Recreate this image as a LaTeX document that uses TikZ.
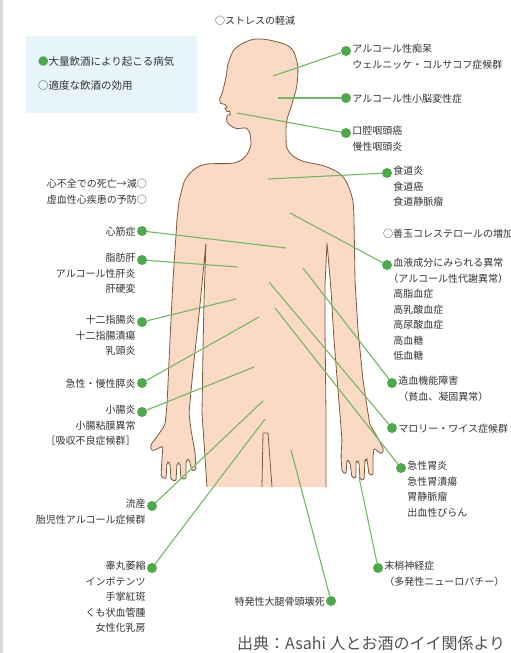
\documentclass[tikz,border=0pt]{standalone}
\usepackage{fontspec}
\setmainfont{Noto Sans CJK JP}
\definecolor{skin}{HTML}{FAD9C5}
\definecolor{skinline}{HTML}{7B5B3B}
\definecolor{leaf}{HTML}{72B864}
\definecolor{dotgreen}{HTML}{4DAA4A}
\definecolor{legendbg}{HTML}{E8F4FB}
\definecolor{ink}{HTML}{343434}

% outline of the figure, from the right hip round to the left hip
\def\bodyline{(326,487) -- (326,413) -- (325,330) -- (325,285) -- (327,243)
  -- (331,290) -- (334,340) -- (338,390) -- (340,415)
  -- (342,440) -- (341,456) -- (342,472) -- (346,474) -- (347,460) -- (350,462)
  -- (352,478) -- (356,478) -- (356,461) -- (359,462) -- (360,480) -- (364,480)
  -- (365,460) -- (367,459) -- (369,475) -- (373,475) -- (373,456) -- (374,448)
  -- (381,454) -- (384,450) -- (378,438) -- (370,425) -- (368,413)
  -- (363,380) -- (358,330) -- (355,280)
  -- plot[smooth,tension=.55] coordinates {(354,220) (352,197) (343,177) (327,167)
     (300,160) (288,150) (286,135) (287,120) (292,104) (297,84) (297,62) (288,46)
     (258,39) (237,47) (229,61) (226,77) (223,90) (220,101) (226,106) (226,110)
     (230,113) (227,117) (228,123) (235,128) (248,130) (250,148) (237,162)
     (203,165) (187,177) (180,197) (177,220)}
  -- (173,280) -- (170,340) -- (167,405)
  -- (165,425) -- (156,438) -- (150,446) -- (152,451) -- (159,448) -- (163,446)
  -- (162,458) -- (161,477) -- (166,479) -- (167,462) -- (170,463) -- (171,480)
  -- (176,481) -- (177,463) -- (180,463) -- (181,479) -- (186,479) -- (186,461)
  -- (189,459) -- (192,471) -- (196,470) -- (195,452) -- (191,430) -- (189,413)
  -- (193,370) -- (199,315) -- (206,243)
  -- (204,300) -- (203,350) -- (202,413) -- (207,487)}

\begin{document}
\begin{tikzpicture}[x=1pt,y=-1pt,
  dot/.style={circle,fill=dotgreen,inner sep=0pt,minimum size=10pt},
  lead/.style={leaf,line width=1.1pt},
  lbl/.style={text=ink,font=\fontsize{10}{15.5}\selectfont,inner sep=1pt},
  rlbl/.style={lbl,anchor=north west,align=left,yshift=8pt,execute at begin node=\strut},
  llbl/.style={lbl,anchor=north east,align=right,yshift=8pt,execute at begin node=\strut}]
\useasboundingbox (0,0) rectangle (511,653);
\fill[gray!28] (0,0) rectangle (3,653);

\fill[legendbg] (26,36) rectangle (197,113);
\node[lbl,anchor=base west,font=\fontsize{10.5}{12}\selectfont] (heavy) at (37,65) {{\color{dotgreen}●}大量飲酒により起こる病気};
\node[lbl,anchor=base west,font=\fontsize{10.5}{12}\selectfont] (moderate) at (37,89) {○適度な飲酒の効用};

\fill[skin] \bodyline -- (272,487) -- (268,433) -- (263,433) -- (262,487) -- cycle;
\draw[skinline,line width=.8pt,rounded corners=2pt] \bodyline;
\draw[skinline,line width=.8pt] (272,487) -- (268,433) -- (263,433) -- (262,487);

\node[lbl,anchor=base west] (stress) at (214,24) {○ストレスの軽減};
\node[lbl,anchor=base east] (heartfail) at (148,187) {心不全での死亡→減○};
\node[lbl,anchor=base east] (ischemic) at (148,203) {虚血性心疾患の予防○};
\node[lbl,anchor=base west] (hdl) at (382,237) {○善玉コレステロールの増加};

\node[dot] (dementia) at (346,51) {};
\node[dot] (cerebellum) at (346,98) {};
\node[dot] (pharynx) at (346,133) {};
\node[dot] (esophagus) at (387,173) {};
\node[dot] (blood) at (387,265) {};
\node[dot] (hemato) at (392,383) {};
\node[dot] (mallory) at (392,428) {};
\node[dot] (gastritis) at (401,468) {};
\node[dot] (neuropathy) at (378,568) {};
\node[dot] (femur) at (331,601) {};
\node[dot] (cardio) at (142,231) {};
\node[dot] (liver) at (142,260) {};
\node[dot] (duodenum) at (142,322) {};
\node[dot] (pancreas) at (142,383) {};
\node[dot] (intestine) at (142,412) {};
\node[dot] (miscarriage) at (152,506) {};
\node[dot] (testis) at (152,568) {};

\coordinate (p-dementia) at (273,76);
\coordinate (p-cerebellum) at (278,98);
\coordinate (p-pharynx) at (237,113);
\coordinate (p-esophagus) at (268,179);
\coordinate (p-blood) at (290,213);
\coordinate (p-hemato) at (303,268);
\coordinate (p-mallory) at (269,282);
\coordinate (p-gastritis) at (275,308);
\coordinate (p-neuropathy) at (359,477);
\coordinate (p-femur) at (291,450);
\coordinate (p-cardio) at (286,248);
\coordinate (p-liver) at (238,267);
\coordinate (p-duodenum) at (236,299);
\coordinate (p-pancreas) at (259,317);
\coordinate (p-intestine) at (254,367);
\coordinate (p-miscarriage) at (263,401);
\coordinate (p-testis) at (265,419);

\foreach \n in {dementia,cerebellum,pharynx,esophagus,blood,hemato,mallory,gastritis,
  neuropathy,femur,cardio,liver,duodenum,pancreas,intestine,miscarriage,testis}
  \draw[lead] (\n) -- (p-\n);

\node[rlbl] (dementia-t) at (dementia.east) {アルコール性痴呆\\ウェルニッケ・コルサコフ症候群};
\node[rlbl] (cerebellum-t) at (cerebellum.east) {アルコール性小脳変性症};
\node[rlbl] (pharynx-t) at (pharynx.east) {口腔咽頭癌\\慢性咽頭炎};
\node[rlbl] (esophagus-t) at (esophagus.east) {食道炎\\食道癌\\食道静脈瘤};
\node[rlbl] (blood-t) at (blood.east) {血液成分にみられる異常\\\hspace{-.5em}（アルコール性代謝異常）\\高脂血症\\高乳酸血症\\高尿酸血症\\高血糖\\低血糖};
\node[rlbl] (hemato-t) at (hemato.east) {造血機能障害\\（貧血、凝固異常）};
\node[rlbl] (mallory-t) at (mallory.east) {マロリー・ワイス症候群};
\node[rlbl] (gastritis-t) at (gastritis.east) {急性胃炎\\急性胃潰瘍\\胃静脈瘤\\出血性びらん};
\node[rlbl] (neuropathy-t) at (neuropathy.east) {末梢神経症\\（多発性ニューロパチー）};
\node[llbl] (femur-t) at (femur.west) {特発性大腿骨頭壊死};
\node[llbl] (cardio-t) at (cardio.west) {心筋症};
\node[llbl] (liver-t) at (liver.west) {脂肪肝\\アルコール性肝炎\\肝硬変};
\node[llbl] (duodenum-t) at (duodenum.west) {十二指腸炎\\十二指腸潰瘍\\乳頭炎};
\node[llbl] (pancreas-t) at (pancreas.west) {急性・慢性膵炎};
\node[llbl] (intestine-t) at (intestine.west) {小腸炎\\小腸粘膜異常\\［吸収不良症候群］};
\node[llbl] (miscarriage-t) at (miscarriage.west) {流産\\胎児性アルコール症候群};
\node[llbl] (testis-t) at (testis.west) {睾丸萎縮\\インポテンツ\\手掌紅斑\\くも状血管腫\\女性化乳房};

\node[text=ink!85,font=\fontsize{16}{18}\selectfont,anchor=base west,inner sep=0pt] (source) at (237,649) {出典：Asahi 人とお酒のイイ関係より};
\end{tikzpicture}
\end{document}
